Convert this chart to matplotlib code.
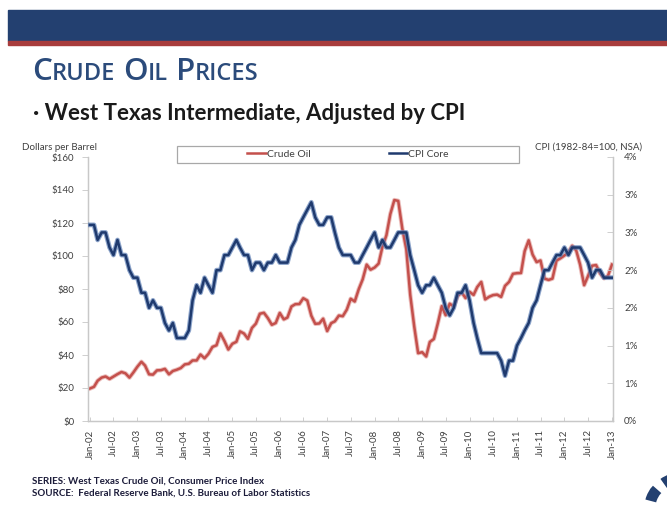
import numpy as np
import pandas as pd
import matplotlib
matplotlib.use("Agg")
import matplotlib.pyplot as plt
import matplotlib.patheffects as pe
from matplotlib.patches import Rectangle, Circle

plt.rcParams["font.family"] = ["Lato", "DejaVu Sans"]

# ---- data (monthly, Jan-02 .. Jan-13) ----
months = pd.date_range("2002-01-01", "2013-01-01", freq="MS")

crude_oil = [
    19.7, 20.7, 24.4, 26.3, 27.0, 25.5, 26.9, 28.4, 29.7, 28.9, 26.3, 29.4,
    32.9, 35.9, 33.6, 28.3, 28.1, 30.7, 30.8, 31.6, 28.3, 30.3, 31.1, 32.1,
    34.3, 34.7, 36.7, 36.7, 40.3, 38.0, 40.7, 44.9, 45.9, 53.1, 48.5, 43.3,
    46.8, 48.0, 54.3, 53.0, 49.8, 56.4, 59.0, 65.0, 65.6, 62.4, 58.3, 59.4,
    65.5, 61.6, 62.7, 69.4, 70.8, 70.9, 74.4, 73.0, 63.8, 58.9, 59.1, 62.0,
    54.5, 59.3, 60.4, 63.9, 63.5, 67.5, 74.1, 72.4, 79.9, 85.8, 94.8, 91.7,
    93.0, 95.4, 105.5, 112.6, 125.4, 133.9, 133.4, 116.7, 104.1, 76.6, 57.3, 41.1,
    41.7, 39.1, 47.9, 49.7, 59.0, 69.6, 64.1, 71.1, 69.4, 75.7, 78.0, 74.5,
    78.3, 76.4, 81.2, 84.3, 73.7, 75.3, 76.3, 76.6, 75.2, 81.9, 84.3, 89.2,
    89.6, 89.7, 102.9, 109.5, 100.9, 96.3, 97.3, 86.3, 85.5, 86.3, 97.2, 98.6,
    100.3, 102.2, 106.2, 103.3, 94.7, 82.3, 87.9, 94.1, 94.5, 89.5, 86.5, 87.9,
    94.8,
]

cpi_core = [
    2.6, 2.6, 2.4, 2.5, 2.5, 2.3, 2.2, 2.4, 2.2, 2.2, 2.0, 1.9,
    1.9, 1.7, 1.7, 1.5, 1.6, 1.5, 1.5, 1.3, 1.2, 1.3, 1.1, 1.1,
    1.1, 1.2, 1.6, 1.8, 1.7, 1.9, 1.8, 1.7, 2.0, 2.0, 2.2, 2.2,
    2.3, 2.4, 2.3, 2.2, 2.2, 2.0, 2.1, 2.1, 2.0, 2.1, 2.1, 2.2,
    2.1, 2.1, 2.1, 2.3, 2.4, 2.6, 2.7, 2.8, 2.9, 2.7, 2.6, 2.6,
    2.7, 2.7, 2.5, 2.3, 2.2, 2.2, 2.2, 2.1, 2.1, 2.2, 2.3, 2.4,
    2.5, 2.3, 2.4, 2.3, 2.3, 2.4, 2.5, 2.5, 2.5, 2.2, 2.0, 1.8,
    1.7, 1.8, 1.8, 1.9, 1.8, 1.7, 1.5, 1.4, 1.5, 1.7, 1.7, 1.8,
    1.6, 1.3, 1.1, 0.9, 0.9, 0.9, 0.9, 0.9, 0.8, 0.6, 0.8, 0.8,
    1.0, 1.1, 1.2, 1.3, 1.5, 1.6, 1.8, 2.0, 2.0, 2.1, 2.2, 2.2,
    2.3, 2.2, 2.3, 2.3, 2.3, 2.2, 2.1, 1.9, 2.0, 2.0, 1.9, 1.9,
    1.9,
]

x_tick_labels = [
    "Jan-02", "Jul-02", "Jan-03", "Jul-03", "Jan-04", "Jul-04", "Jan-05",
    "Jul-05", "Jan-06", "Jul-06", "Jan-07", "Jul-07", "Jan-08", "Jul-08",
    "Jan-09", "Jul-09", "Jan-10", "Jul-10", "Jan-11", "Jul-11", "Jan-12",
    "Jul-12", "Jan-13",
]
left_ticks = [0, 20, 40, 60, 80, 100, 120, 140, 160]
right_ticks = [0, 0.5, 1.0, 1.5, 2.0, 2.5, 3.0, 3.5]
right_tick_labels = ["0%", "1%", "1%", "2%", "2%", "3%", "3%", "4%"]

RED = "#C4504C"
BLUE = "#1F3A6E"
NAVY = "#234070"
GRAY = "#404040"

W, H = 667, 507
fig = plt.figure(figsize=(W / 100, H / 100), dpi=100)


def fx(px):
    return px / W


def fy(py):
    return 1 - py / H


# =========================
# BANNER + TITLES
# =========================
fig.patches.append(Rectangle((fx(8), fy(41)), 1, fy(10) - fy(41),
                             transform=fig.transFigure, color=NAVY, zorder=0))
fig.patches.append(Rectangle((fx(8), fy(45)), 1, fy(41) - fy(45),
                             transform=fig.transFigure, color="#A83C3C", zorder=0))

renderer = fig.canvas.get_renderer()
# small caps title built from big and small pieces
title_parts = [("C", 22.5), ("RUDE", 17), (" ", 8), ("O", 22.5), ("IL", 17), (" ", 8),
               ("P", 22.5), ("RICES", 17)]
x0 = fx(32)
for part, size in title_parts:
    if part == " ":
        x0 += fx(size)
        continue
    t = fig.text(x0, fy(80), part, fontsize=size, color="#2B4B7B",
                 family=["Open Sans", "DejaVu Sans"], fontweight="semibold",
                 ha="left", va="baseline")
    x0 += t.get_window_extent(renderer).width / W

fig.text(fx(33), fy(120), "\u00b7 West Texas Intermediate, Adjusted by CPI",
         fontsize=16, fontweight="bold", color="#1a1a1a", ha="left", va="baseline")

fig.text(fx(22), fy(150), "Dollars per Barrel", fontsize=7, color=GRAY,
         ha="left", va="baseline")
fig.text(fx(642), fy(150), "CPI (1982-84=100, NSA)", fontsize=7, color=GRAY,
         ha="right", va="baseline")

fig.text(fx(32), fy(484), "SERIES: West Texas Crude Oil, Consumer Price Index",
         fontsize=7, fontweight="bold", color="#1c1c3a", ha="left", va="baseline")
fig.text(fx(32), fy(496), "SOURCE:  Federal Reserve Bank, U.S. Bureau of Labor Statistics",
         fontsize=7, fontweight="bold", color="#1c1c3a", ha="left", va="baseline")

# partial seal in the bottom-right corner
fig.patches.append(Circle((fx(692), fy(507)), 42 / W, transform=fig.transFigure,
                          facecolor="none", edgecolor=NAVY, linewidth=8,
                          linestyle=(0, (1.2, 0.8)), zorder=1))

# =========================
# CHART
# =========================
ax = fig.add_axes([fx(88), fy(421), fx(613) - fx(88), fy(157) - fy(421)])
ax2 = ax.twinx()

glow_red = [pe.Stroke(linewidth=3.2, foreground="#e3a3a0", alpha=0.7), pe.Normal()]
glow_blue = [pe.Stroke(linewidth=3.4, foreground="#5d7fb5", alpha=0.7), pe.Normal()]

l1, = ax.plot(months, crude_oil, color=RED, linewidth=1.8, label="Crude Oil",
              path_effects=glow_red, zorder=3)
l2, = ax2.plot(months, cpi_core, color=BLUE, linewidth=1.8, label="CPI Core",
               path_effects=glow_blue, zorder=3)

ax.set_xlim(months[0] - pd.Timedelta(days=15), months[-1] + pd.Timedelta(days=8))
ax.set_ylim(0, 160)
ax2.set_ylim(0, 3.5)

ax.set_yticks(left_ticks)
ax.set_yticklabels([f"${v}" for v in left_ticks])
ax2.set_yticks(right_ticks)
ax2.set_yticklabels(right_tick_labels)

ax.set_xticks(months[::6])
ax.set_xticklabels(x_tick_labels, rotation=90)

for a in (ax, ax2):
    a.spines["top"].set_visible(False)
    for s in ("left", "right", "bottom"):
        a.spines[s].set_color("#c8c8c8")
        a.spines[s].set_linewidth(0.9)
    a.set_facecolor("none")

ax.tick_params(axis="y", direction="out", length=4, width=0.6, color="#c8c8c8",
               labelsize=7, labelcolor=GRAY, pad=6)
ax.tick_params(axis="x", direction="in", length=3, width=0.6, color="#c8c8c8",
               labelsize=7, labelcolor=GRAY, pad=6)
ax2.tick_params(axis="y", direction="in", length=4, width=0.6, color="#c8c8c8",
                labelsize=7, labelcolor=GRAY, pad=8)

# legend box across the top of the plot
fig.patches.append(Rectangle((fx(177), fy(163)), fx(519) - fx(177), fy(146) - fy(163),
                             transform=fig.transFigure, facecolor="white",
                             edgecolor="#a8a8a8", linewidth=0.9, zorder=5))
leg = fig.legend([l1, l2], ["Crude Oil", "CPI Core"], ncol=2, loc="center",
                 bbox_to_anchor=(fx(348), fy(154.5)), frameon=False, fontsize=7.5,
                 handlelength=1.8, handletextpad=0.1, columnspacing=7.5,
                 labelcolor=GRAY)
leg.set_zorder(6)
for h in leg.legend_handles:
    h.set_path_effects([])

fig.savefig("out.png", dpi=100)
plt.close()
